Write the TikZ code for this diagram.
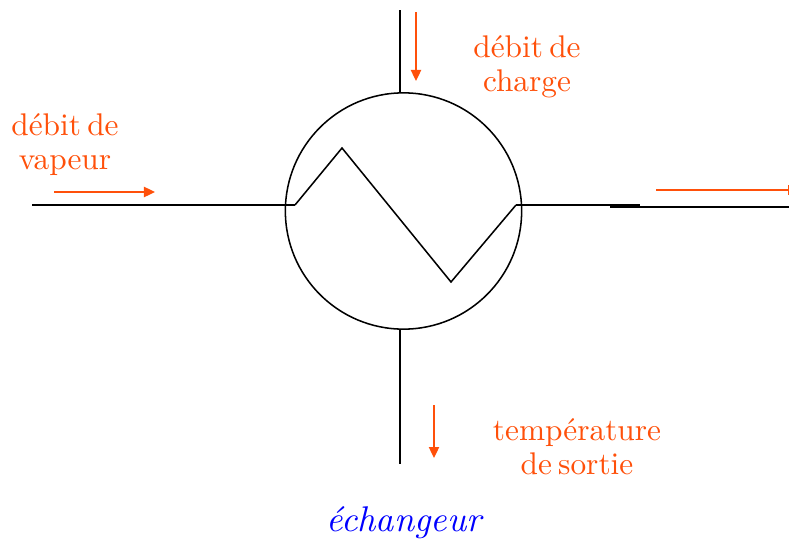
\documentclass[tikz,border=0pt]{standalone}
\usepackage{xcolor}
\usetikzlibrary{arrows.meta, positioning}
\definecolor{flowred}{RGB}{255,80,10}
\definecolor{exblue}{RGB}{0,0,255}
\newcommand{\wsp}{\hspace{2pt}}
\tikzset{
  pipe/.style={draw=black, line width=1.15pt},
  flowline/.style={line width=1.15pt, draw=flowred},
  flowarrow/.style={flowline, -{Triangle[length=2.9mm, width=2.7mm]}},
  flowlabel/.style={font=\fontsize{10}{10.85}\selectfont, scale=2.35, text=flowred, align=center, inner sep=0pt},
  exlabel/.style={font=\fontsize{10}{12}\selectfont\itshape, scale=2.68, text=exblue, inner sep=0pt}
}
\begin{document}
\begin{tikzpicture}[x=0.75pt, y=-0.75pt]
\useasboundingbox (0,0) rectangle (789,539);

% -------- EXCHANGER --------
\node[circle, pipe, minimum size=177.2pt, inner sep=0pt] (ex) at (403.5,211) {};

\coordinate (z1) at (295,205);
\coordinate (z2) at (342,148);
\coordinate (z3) at (451,282);
\coordinate (z4) at (516,205);
\draw[pipe, line join=miter] (z1) -- (z2) -- (z3) -- (z4);

% -------- PIPES --------
\coordinate (topin) at (400,10);
\coordinate (topex) at (400,92);
\coordinate (botex) at (400,330);
\coordinate (botout) at (400,464);
\coordinate (lefta) at (32,205);
\coordinate (leftb) at (221,205);
\coordinate (leftc) at (207,205);
\coordinate (righta) at (640,205);
\coordinate (rightb) at (610,207);
\coordinate (rightc) at (789,207);

\foreach \a/\b in {topin/topex,botex/botout,lefta/leftb,leftc/z1,z4/righta,rightb/rightc}
  \draw[pipe] (\a) -- (\b);

% -------- FLOW ARROWS --------
\coordinate (fa1) at (416,12);
\coordinate (fb1) at (416,81);
\coordinate (fa2) at (54,192);
\coordinate (fb2) at (155,192);
\coordinate (fa3) at (434,405);
\coordinate (fb3) at (434,458);
\coordinate (fa4) at (656,190);
\coordinate (fb4) at (789,190);

\foreach \a/\b in {fa1/fb1,fa2/fb2,fa3/fb3}
  \draw[flowarrow] (\a) -- (\b);
\draw[flowline, -{Bar[width=2.6mm, line width=1pt]}] (fa4) -- (fb4);

% -------- LABELS --------
\node[flowlabel] (charge) at (527,67) {débit\wsp de\\charge};
\node[flowlabel] (vapeur) at (65,145) {débit\wsp de\\vapeur};
\node[flowlabel] (sortie) at (577,447) {température\\de\wsp sortie};
\node[exlabel] (exname) at (404,523) {échangeur};

\end{tikzpicture}
\end{document}
